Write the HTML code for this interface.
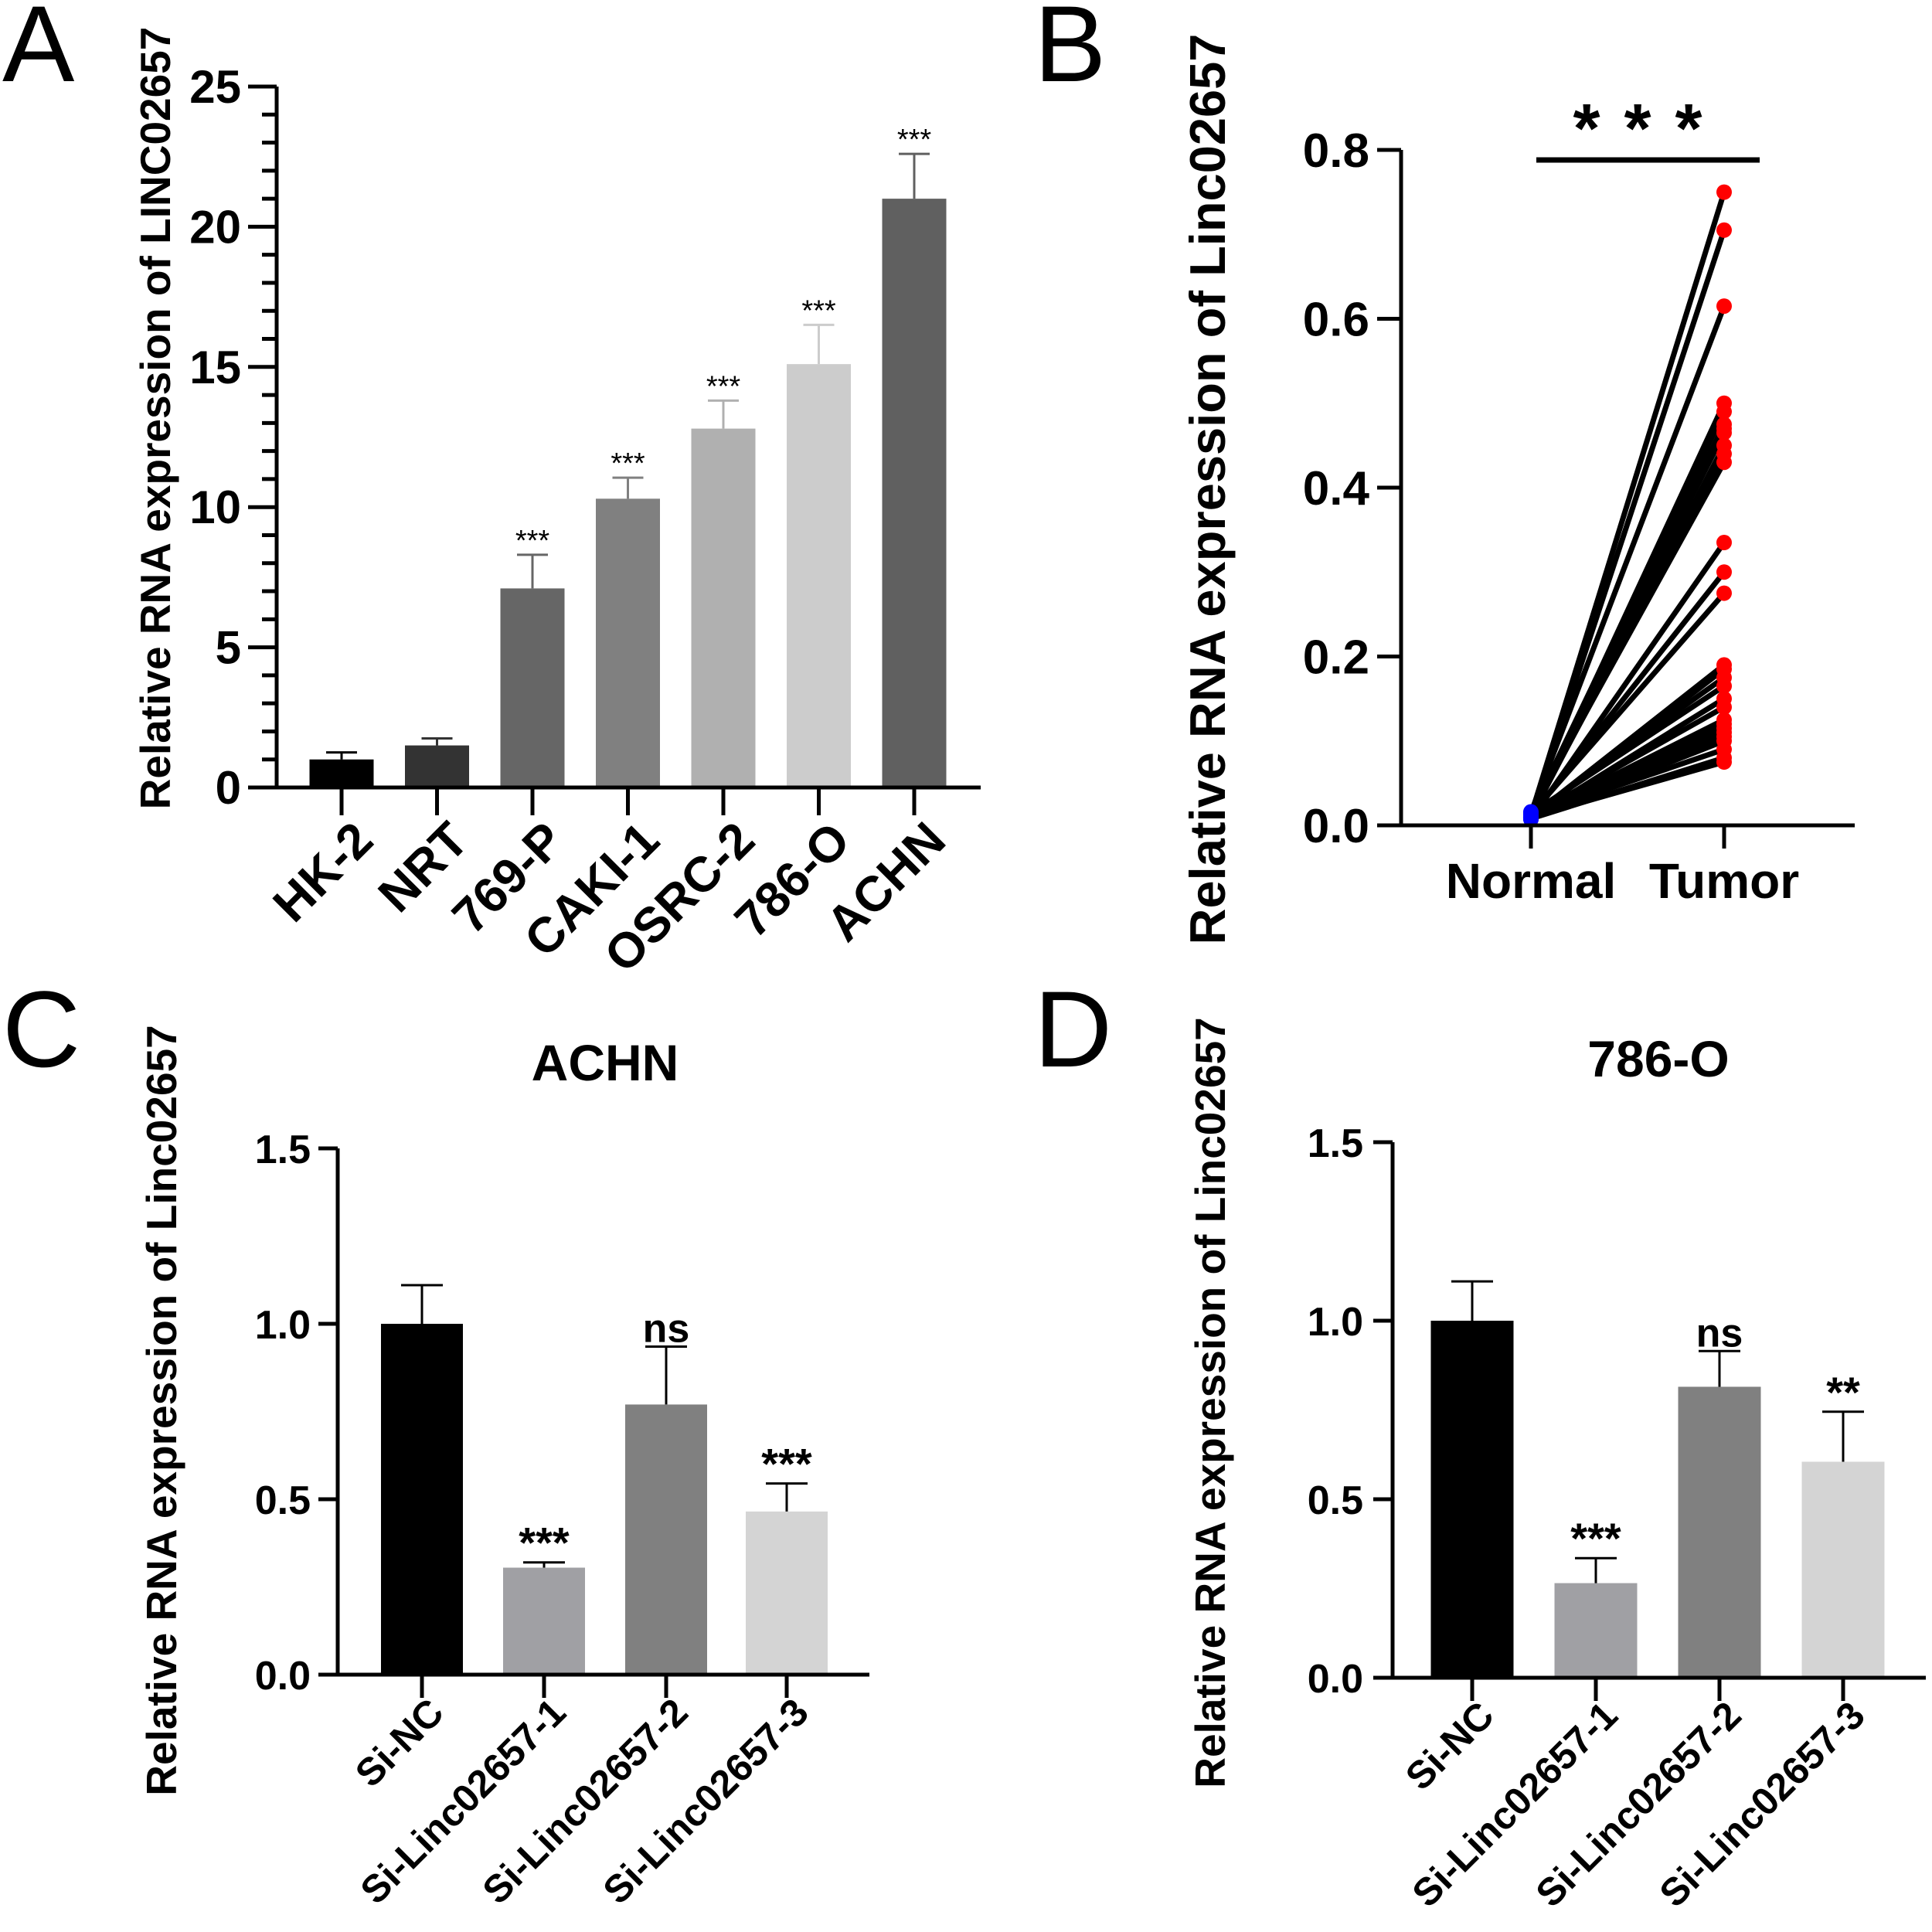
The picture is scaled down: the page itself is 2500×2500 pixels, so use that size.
<!DOCTYPE html>
<html><head><meta charset="utf-8">
<style>
html,body{margin:0;padding:0;background:#fff;}
svg{display:block;font-family:"Liberation Sans",Arial,sans-serif;}
text{font-weight:bold;}
</style></head>
<body>
<svg id="fig" width="2500" height="2500" viewBox="0 0 2500 2500" xmlns="http://www.w3.org/2000/svg">
<text x="3" y="105" font-size="140" style="font-weight:normal">A</text>
<text x="1338" y="105" font-size="140" style="font-weight:normal">B</text>
<text x="3" y="1380" font-size="140" style="font-weight:normal">C</text>
<text x="1338" y="1380" font-size="140" style="font-weight:normal">D</text>
<g id="pa"></g>
<g id="pb"></g>
<g id="pc"></g>
<g id="pd"></g>
</svg>
<script>
// Panel A data
const aCategories = ["HK-2","NRT","769-P","CAKI-1","OSRC-2","786-O","ACHN"];
const aValues = [1.0,1.5,7.1,10.3,12.8,15.1,21.0];
const aErrors = [0.25,0.25,1.2,0.75,1.0,1.4,1.6];
const aSig = ["","","***","***","***","***","***"];
const aColors = ["#000000","#333333","#666666","#808080","#b0b0b0","#cccccc","#606060"];
const aTicks = [0,5,10,15,20,25];
// Panel B data
const bGroups = ["Normal","Tumor"];
const bNormal = [0.012,0.010,0.015,0.008,0.013,0.011,0.009,0.014,0.010,0.012,0.016,0.007,0.011,0.013,0.010,0.009,0.012,0.014,0.008,0.011,0.010,0.013,0.012,0.009,0.011,0.010,0.012,0.008,0.010];
const bTumor = [0.75,0.705,0.615,0.50,0.49,0.475,0.47,0.465,0.45,0.44,0.43,0.335,0.30,0.275,0.19,0.185,0.175,0.165,0.15,0.14,0.125,0.12,0.115,0.11,0.105,0.10,0.09,0.08,0.075];
const bTicks = [0.0,0.2,0.4,0.6,0.8];
// Panel C data
const cCategories = ["Si-NC","Si-Linc02657-1","Si-Linc02657-2","Si-Linc02657-3"];
const cValues = [1.0,0.305,0.77,0.465];
const cErrors = [0.11,0.015,0.165,0.08];
const cSig = ["","***","ns","***"];
// Panel D data
const dValues = [1.0,0.265,0.815,0.605];
const dErrors = [0.11,0.07,0.10,0.14];
const dSig = ["","***","ns","**"];
const cdColors = ["#000000","#a0a0a4","#808080","#d4d4d4"];
const cdTicks = [0.0,0.5,1.0,1.5];

const NS="http://www.w3.org/2000/svg";
function mk(parent,tag,attrs,txt){const e=document.createElementNS(NS,tag);for(const k in attrs)e.setAttribute(k,attrs[k]);if(txt!==undefined)e.textContent=txt;parent.appendChild(e);return e;}
function lin(d0,d1,r0,r1){return v=>r0+(v-d0)*(r1-r0)/(d1-d0);}

// ---------- Panel A ----------
(function(){
const g=document.getElementById('pa');
const y=lin(0,25,1019,112);
const x0=442, step=123.5, bw=83;
const xi=i=>x0+i*step;
for(let i=0;i<aValues.length;i++){
  const cx=xi(i);
  const r=mk(g,'rect',{x:cx-bw/2,y:y(aValues[i]),width:bw,height:y(0)-y(aValues[i]),fill:aColors[i]});
  
  
  const top=y(aValues[i]+aErrors[i]);
  const e=mk(g,'path',{d:`M${cx},${y(aValues[i])}V${top}M${cx-20},${top}H${cx+20}`,stroke:aColors[i],'stroke-width':3,fill:'none'});
  
  
  if(aSig[i]){const s=mk(g,'text',{x:cx,y:top-6,'font-size':38,'text-anchor':'middle',style:'font-weight:normal'},aSig[i]);
  
  }
  mk(g,'line',{x1:cx,y1:1019,x2:cx,y2:1055,stroke:'#000','stroke-width':5});
  const t=mk(g,'text',{x:cx+44,y:1091,'font-size':64,'text-anchor':'end',transform:`rotate(-45 ${cx+44} 1091)`},aCategories[i]);
  
  
}
mk(g,'path',{d:`M358,${y(25)}V1019H1269`,stroke:'#000','stroke-width':5,fill:'none'});
for(let v=0;v<=25;v++){const major=v%5===0;mk(g,'line',{x1:major?321:339,y1:y(v),x2:358,y2:y(v),stroke:'#000','stroke-width':5});}
aTicks.forEach(v=>{const t=mk(g,'text',{x:312,y:y(v)+21,'font-size':60,'text-anchor':'end'},String(v));

});
const yt=mk(g,'text',{x:0,y:0,'font-size':55,'text-anchor':'middle',transform:'translate(220,541) rotate(-90)'},'Relative RNA expression of LINC02657');


})();

// ---------- Panel B ----------
(function(){
const g=document.getElementById('pb');
const y=lin(0,0.8,1068,194);
const xN=1981,xT=2231;
for(let i=0;i<bTumor.length;i++){
  const l=mk(g,'line',{x1:xN,y1:y(bNormal[i]),x2:xT,y2:y(bTumor[i]),stroke:'#000','stroke-width':7});
  
  
}
for(let i=0;i<bTumor.length;i++){
  const n=mk(g,'circle',{cx:xN,cy:y(bNormal[i]),r:10,fill:'#0000ff'});
  
  
  const t=mk(g,'circle',{cx:xT,cy:y(bTumor[i]),r:10,fill:'#ff0000'});
  
  
}
mk(g,'path',{d:`M1813,${y(0.8)}V1068H2400`,stroke:'#000','stroke-width':5,fill:'none'});
bTicks.forEach(v=>{mk(g,'line',{x1:1782,y1:y(v),x2:1813,y2:y(v),stroke:'#000','stroke-width':5});
const t=mk(g,'text',{x:1772,y:y(v)+22,'font-size':62,'text-anchor':'end'},v.toFixed(1));

});
[xN,xT].forEach((cx,i)=>{mk(g,'line',{x1:cx,y1:1068,x2:cx,y2:1098,stroke:'#000','stroke-width':5});
const t=mk(g,'text',{x:cx,y:1162,'font-size':64,'text-anchor':'middle'},bGroups[i]);

});
mk(g,'line',{x1:1988,y1:207,x2:2277,y2:207,stroke:'#000','stroke-width':7});
[2053,2119,2185].forEach(sx=>{const s=mk(g,'text',{x:sx,y:197,'font-size':90,'text-anchor':'middle'},'*');

});
const yt=mk(g,'text',{x:0,y:0,'font-size':65,'text-anchor':'middle',transform:'translate(1585,633) rotate(-90)'},'Relative RNA expression of Linc02657');


})();

// ---------- Panels C & D ----------
function barPanel(id,vals,errs,sig,o){
const g=document.getElementById(id);
const y=lin(0,1.5,o.y0,o.y15);
for(let i=0;i<vals.length;i++){
  const cx=o.xs[i];
  const r=mk(g,'rect',{x:cx-o.bw/2,y:y(vals[i]),width:o.bw,height:y(0)-y(vals[i]),fill:cdColors[i]});
  
  
  const top=y(vals[i]+errs[i]);
  const e=mk(g,'path',{d:`M${cx},${y(vals[i])}V${top}M${cx-27},${top}H${cx+27}`,stroke:'#000','stroke-width':3,fill:'none'});
  
  
  if(sig[i]){const s=mk(g,'text',{x:cx,y:top-6,'font-size':sig[i]==='ns'?52:56,'text-anchor':'middle'},sig[i]);
  
  }
  mk(g,'line',{x1:cx,y1:o.y0,x2:cx,y2:o.y0+30,stroke:'#000','stroke-width':5});
  const t=mk(g,'text',{x:cx+31,y:o.y0+52,'font-size':50,'text-anchor':'end',transform:`rotate(-45 ${cx+31} ${o.y0+52})`},cCategories[i]);
  
  
}
mk(g,'path',{d:`M${o.ax},${y(1.5)}V${o.y0}H${o.xend}`,stroke:'#000','stroke-width':5,fill:'none'});
cdTicks.forEach(v=>{mk(g,'line',{x1:o.ax-25,y1:y(v),x2:o.ax,y2:y(v),stroke:'#000','stroke-width':5});
const t=mk(g,'text',{x:o.tr,y:y(v)+19,'font-size':52,'text-anchor':'end'},v.toFixed(1));

});
const tt=mk(g,'text',{x:o.tx,y:o.ty,'font-size':66,'text-anchor':'middle'},o.title);


const yt=mk(g,'text',{x:0,y:0,'font-size':55,'text-anchor':'middle',transform:`translate(${o.ytx},${o.yty}) rotate(-90)`},'Relative RNA expression of Linc02657');


}
barPanel('pc',cValues,cErrors,cSig,{y0:2167,y15:1486,ax:437,tr:402,xend:1125,xs:[546,704,862,1018],bw:106,title:'ACHN',tx:783,ty:1398,ytx:228,yty:1825});
barPanel('pd',dValues,dErrors,dSig,{y0:2171,y15:1478,ax:1802,tr:1764,xend:2492,xs:[1905,2065,2225,2385],bw:107,title:'786-O',tx:2146,ty:1393,ytx:1585,yty:1815});
</script>
</body></html>
